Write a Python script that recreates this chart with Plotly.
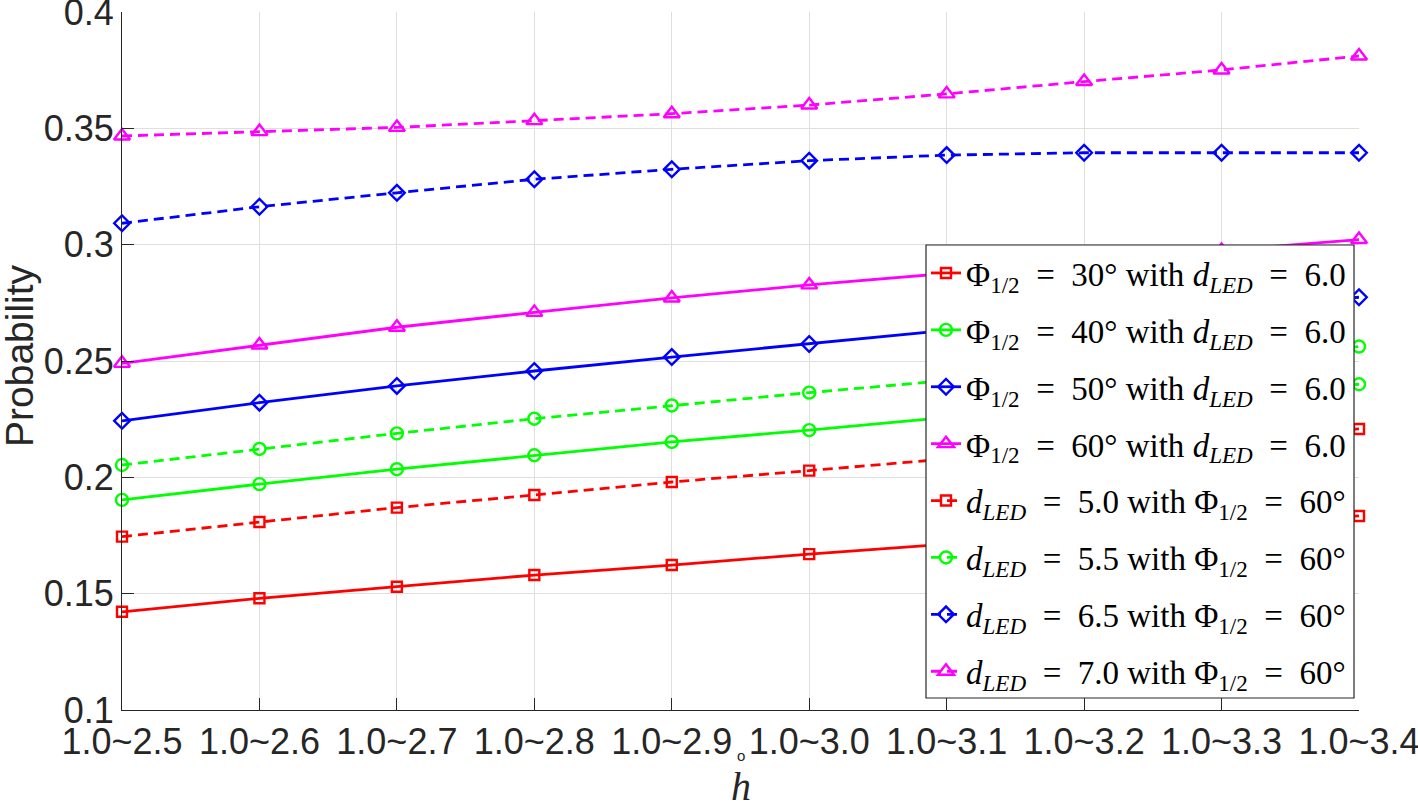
import plotly.graph_objects as go

categories = ["1.0~2.5", "1.0~2.6", "1.0~2.7", "1.0~2.8", "1.0~2.9",
              "1.0~3.0", "1.0~3.1", "1.0~3.2", "1.0~3.3", "1.0~3.4"]
y_ticks = [0.1, 0.15, 0.2, 0.25, 0.3, 0.35, 0.4]
y_ticktext = ["0.1", "0.15", "0.2", "0.25", "0.3", "0.35", "0.4"]

phi30_d60 = [0.1422, 0.1480, 0.1530, 0.1580, 0.1623, 0.1670, 0.1713, 0.1753, 0.1793, 0.1834]
phi40_d60 = [0.1903, 0.1971, 0.2035, 0.2095, 0.2152, 0.2203, 0.2258, 0.2305, 0.2352, 0.2400]
phi50_d60 = [0.2243, 0.2321, 0.2393, 0.2457, 0.2517, 0.2573, 0.2632, 0.2680, 0.2727, 0.2774]
phi60_d60 = [0.2490, 0.2569, 0.2645, 0.2709, 0.2771, 0.2827, 0.2877, 0.2927, 0.2975, 0.3022]
d50_phi60 = [0.1745, 0.1808, 0.1870, 0.1924, 0.1980, 0.2029, 0.2079, 0.2122, 0.2165, 0.2208]
d55_phi60 = [0.2053, 0.2122, 0.2189, 0.2252, 0.2309, 0.2364, 0.2416, 0.2465, 0.2513, 0.2562]
d65_phi60 = [0.3092, 0.3163, 0.3223, 0.3281, 0.3324, 0.3361, 0.3385, 0.3395, 0.3395, 0.3395]
d70_phi60 = [0.3467, 0.3486, 0.3504, 0.3533, 0.3563, 0.3600, 0.3648, 0.3701, 0.3751, 0.3811]

EQ = "\u2002=\u2002"
names = [
    f"Φ<sub>1/2</sub>{EQ}30° with <i>d</i><sub><i>LED</i></sub>{EQ}6.0",
    f"Φ<sub>1/2</sub>{EQ}40° with <i>d</i><sub><i>LED</i></sub>{EQ}6.0",
    f"Φ<sub>1/2</sub>{EQ}50° with <i>d</i><sub><i>LED</i></sub>{EQ}6.0",
    f"Φ<sub>1/2</sub>{EQ}60° with <i>d</i><sub><i>LED</i></sub>{EQ}6.0",
    f"<i>d</i><sub><i>LED</i></sub>{EQ}5.0 with Φ<sub>1/2</sub>{EQ}60°",
    f"<i>d</i><sub><i>LED</i></sub>{EQ}5.5 with Φ<sub>1/2</sub>{EQ}60°",
    f"<i>d</i><sub><i>LED</i></sub>{EQ}6.5 with Φ<sub>1/2</sub>{EQ}60°",
    f"<i>d</i><sub><i>LED</i></sub>{EQ}7.0 with Φ<sub>1/2</sub>{EQ}60°",
]
series = [phi30_d60, phi40_d60, phi50_d60, phi60_d60,
          d50_phi60, d55_phi60, d65_phi60, d70_phi60]
colors = ["#FF0000", "#00FF00", "#0000FF", "#FF00FF"] * 2
symbols = ["square-open", "circle-open", "diamond-open", "triangle-up-open"] * 2
sizes = [10, 12, 12, 14] * 2
dashes = ["solid"] * 4 + ["10px,6px"] * 4

fig = go.Figure()
for i, (nm, ys) in enumerate(zip(names, series)):
    fig.add_trace(go.Scatter(
        x=categories, y=ys, name=nm, mode="lines+markers",
        legendgroup=f"g{i}",
        line=dict(color=colors[i], width=2.8, dash=dashes[i]),
        marker=dict(symbol=symbols[i], size=sizes[i], color=colors[i],
                    line=dict(color=colors[i], width=2.4)),
        cliponaxis=False,
    ))

axis_common = dict(
    showline=True, linecolor="#262626", linewidth=1,
    ticks="inside", ticklen=12, tickcolor="#262626", tickwidth=1,
    showgrid=True, gridcolor="#dfdfdf", gridwidth=1,
    zeroline=False, mirror=False, automargin=False,
    ticklabeloverflow="allow",
    tickfont=dict(family="Liberation Sans, Arial, sans-serif", size=36, color="#262626"),
)

# pixel geometry of the plot area (left, right, top, bottom)
PL, PR, PT, PB = 122, 1359, 12, 710
def px_x(p):
    return (p - PL) / (PR - PL)
def px_y(p):
    return (PB - p) / (PB - PT)

fig.update_layout(
    width=1418, height=803,
    margin=dict(l=PL, r=1418 - PR, t=PT, b=803 - PB),
    paper_bgcolor="white", plot_bgcolor="white",
    showlegend=True,
    legend=dict(
        x=px_x(926), y=px_y(245), xanchor="left", yanchor="top",
        bgcolor="rgba(0,0,0,0)", borderwidth=0,
        font=dict(family="Liberation Serif, Times New Roman, serif", size=33, color="black"),
        tracegroupgap=11, itemwidth=30,
    ),
    xaxis=dict(type="category", range=[0, 9], **axis_common),
    yaxis=dict(range=[0.1, 0.4], tickvals=y_ticks, ticktext=y_ticktext, **axis_common),
    shapes=[
        dict(type="rect", xref="paper", yref="paper", layer="above",
             x0=px_x(926), x1=px_x(1354), y0=px_y(698), y1=px_y(245),
             fillcolor="white", line=dict(color="#262626", width=1.2)),
    ],
    annotations=[
        dict(text="Probability", textangle=-90, xref="paper", yref="paper",
             x=px_x(19), y=px_y(356), xanchor="center", yanchor="middle", showarrow=False,
             font=dict(family="Liberation Sans, Arial, sans-serif", size=39, color="#262626")),
        dict(text="<i>h</i>", xref="paper", yref="paper",
             x=0.5, y=px_y(787), xanchor="center", yanchor="middle", showarrow=False,
             font=dict(family="Liberation Serif, Times New Roman, serif", size=40, color="#262626")),
        dict(text="o", xref="paper", yref="paper",
             x=0.5, y=px_y(755), xanchor="center", yanchor="middle", showarrow=False,
             font=dict(family="Liberation Sans, Arial, sans-serif", size=15, color="#262626")),
    ],
)

fig.write_html("out.html", config={"displayModeBar": False},
               post_script="document.body.style.margin='0px';")
